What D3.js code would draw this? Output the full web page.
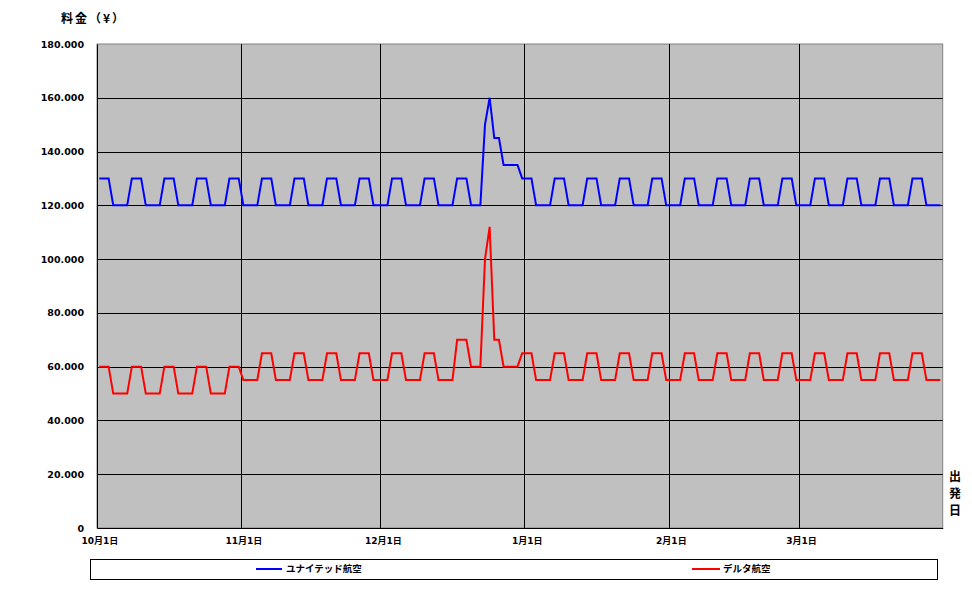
<!DOCTYPE html>
<html>
<head>
<meta charset="utf-8">
<script src="https://cdn.jsdelivr.net/npm/d3@7"></script>
<style>
  html, body { margin: 0; padding: 0; background: #ffffff; }
  svg { display: block; }
  text { font-family: "DejaVu Sans", "Noto Sans CJK JP", sans-serif; font-weight: bold; fill: #000; }
  .cjk { font-family: "Noto Sans CJK JP", sans-serif; }
</style>
</head>
<body>
<svg id="chart" width="972" height="595"></svg>
<script>
// ---- Data (departure date from 2010-10-01 to 2011-03-31, one value per day, yen) ----
const startDate = "2010-10-01";
const endDate = "2011-04-01"; // axis end (day after last departure date)

const seriesNames = ["ユナイテッド航空", "デルタ航空"];

// United Airlines fares, week by week (Fri, Sat, Sun, Mon, Tue, Wed, Thu)
const unitedFares = [
  130000,130000,130000,120000,120000,120000,120000, // Oct 1
  130000,130000,130000,120000,120000,120000,120000, // Oct 8
  130000,130000,130000,120000,120000,120000,120000, // Oct 15
  130000,130000,130000,120000,120000,120000,120000, // Oct 22
  130000,130000,130000,120000,120000,120000,120000, // Oct 29
  130000,130000,130000,120000,120000,120000,120000, // Nov 5
  130000,130000,130000,120000,120000,120000,120000, // Nov 12
  130000,130000,130000,120000,120000,120000,120000, // Nov 19
  130000,130000,130000,120000,120000,120000,120000, // Nov 26
  130000,130000,130000,120000,120000,120000,120000, // Dec 3
  130000,130000,130000,120000,120000,120000,120000, // Dec 10
  130000,130000,130000,120000,120000,120000,150000, // Dec 17
  160000,145000,145000,135000,135000,135000,135000, // Dec 24
  130000,130000,130000,120000,120000,120000,120000, // Dec 31
  130000,130000,130000,120000,120000,120000,120000, // Jan 7
  130000,130000,130000,120000,120000,120000,120000, // Jan 14
  130000,130000,130000,120000,120000,120000,120000, // Jan 21
  130000,130000,130000,120000,120000,120000,120000, // Jan 28
  130000,130000,130000,120000,120000,120000,120000, // Feb 4
  130000,130000,130000,120000,120000,120000,120000, // Feb 11
  130000,130000,130000,120000,120000,120000,120000, // Feb 18
  130000,130000,130000,120000,120000,120000,120000, // Feb 25
  130000,130000,130000,120000,120000,120000,120000, // Mar 4
  130000,130000,130000,120000,120000,120000,120000, // Mar 11
  130000,130000,130000,120000,120000,120000,120000, // Mar 18
  130000,130000,130000,120000,120000,120000,120000  // Mar 25
];

// Delta Air Lines fares, week by week (Fri, Sat, Sun, Mon, Tue, Wed, Thu)
const deltaFares = [
  60000,60000,60000,50000,50000,50000,50000, // Oct 1
  60000,60000,60000,50000,50000,50000,50000, // Oct 8
  60000,60000,60000,50000,50000,50000,50000, // Oct 15
  60000,60000,60000,50000,50000,50000,50000, // Oct 22
  60000,60000,60000,55000,55000,55000,55000, // Oct 29
  65000,65000,65000,55000,55000,55000,55000, // Nov 5
  65000,65000,65000,55000,55000,55000,55000, // Nov 12
  65000,65000,65000,55000,55000,55000,55000, // Nov 19
  65000,65000,65000,55000,55000,55000,55000, // Nov 26
  65000,65000,65000,55000,55000,55000,55000, // Dec 3
  65000,65000,65000,55000,55000,55000,55000, // Dec 10
  70000,70000,70000,60000,60000,60000,100000, // Dec 17
  112000,70000,70000,60000,60000,60000,60000, // Dec 24
  65000,65000,65000,55000,55000,55000,55000, // Dec 31
  65000,65000,65000,55000,55000,55000,55000, // Jan 7
  65000,65000,65000,55000,55000,55000,55000, // Jan 14
  65000,65000,65000,55000,55000,55000,55000, // Jan 21
  65000,65000,65000,55000,55000,55000,55000, // Jan 28
  65000,65000,65000,55000,55000,55000,55000, // Feb 4
  65000,65000,65000,55000,55000,55000,55000, // Feb 11
  65000,65000,65000,55000,55000,55000,55000, // Feb 18
  65000,65000,65000,55000,55000,55000,55000, // Feb 25
  65000,65000,65000,55000,55000,55000,55000, // Mar 4
  65000,65000,65000,55000,55000,55000,55000, // Mar 11
  65000,65000,65000,55000,55000,55000,55000, // Mar 18
  65000,65000,65000,55000,55000,55000,55000  // Mar 25
];

const yTickValues = [0, 20000, 40000, 60000, 80000, 100000, 120000, 140000, 160000, 180000];
const xTickDates = ["2010-10-01", "2010-11-01", "2010-12-01", "2011-01-01", "2011-02-01", "2011-03-01"];
const xTickLabels = ["10月1日", "11月1日", "12月1日", "1月1日", "2月1日", "3月1日"];
const yAxisTitle = "料金（¥）";
const xAxisTitle = ["出", "発", "日"];
const seriesColors = ["#0000ff", "#ff0000"];

// ---- Drawing ----
const parse = d3.utcParse("%Y-%m-%d");
const t0 = parse(startDate), t1 = parse(endDate);
const dayMs = 86400000;

const plot = { left: 97, right: 942.7, top: 44, bottom: 528 };
const svg = d3.select("#chart");

const x = d3.scaleUtc().domain([t0, t1]).range([plot.left, plot.right]);
const y = d3.scaleLinear().domain([0, 180000]).range([plot.bottom, plot.top]);

const halfDay = x(new Date(t0.getTime() + dayMs / 2)) - x(t0);

const fmt = d3.formatLocale({ decimal: ",", thousands: ".", grouping: [3], currency: ["", ""] }).format(",");

// plot background
svg.append("rect")
  .attr("x", plot.left).attr("y", plot.top)
  .attr("width", plot.right - plot.left).attr("height", plot.bottom - plot.top)
  .attr("fill", "#c0c0c0").attr("stroke", "#808080").attr("stroke-width", 1);

// horizontal gridlines
svg.append("g").selectAll("line")
  .data(yTickValues.filter(v => v > 0 && v < 180000))
  .join("line")
  .attr("x1", plot.left).attr("x2", plot.right)
  .attr("y1", d => Math.round(y(d)) + 0.5).attr("y2", d => Math.round(y(d)) + 0.5)
  .attr("stroke", "#000").attr("stroke-width", 1);

// vertical gridlines at month starts
svg.append("g").selectAll("line")
  .data(xTickDates.slice(1).map(parse))
  .join("line")
  .attr("x1", d => Math.round(x(d)) + 0.5).attr("x2", d => Math.round(x(d)) + 0.5)
  .attr("y1", plot.top).attr("y2", plot.bottom)
  .attr("stroke", "#000").attr("stroke-width", 1);

// y axis
const yAxis = svg.append("g")
  .attr("transform", `translate(${plot.left},0)`)
  .call(d3.axisLeft(y).tickValues(yTickValues).tickFormat(fmt).tickSize(0).tickPadding(13));
yAxis.select(".domain").attr("stroke", "#000");
yAxis.selectAll("text").style("font-size", "9.5px").style("font-family", "'DejaVu Sans', 'Noto Sans CJK JP'").style("font-weight", "bold");

// x axis
const xAxis = svg.append("g")
  .attr("transform", `translate(0,${plot.bottom})`)
  .call(d3.axisBottom(x).tickValues(xTickDates.map(parse))
    .tickFormat((d, i) => xTickLabels[i]).tickSize(0).tickPadding(10));
xAxis.select(".domain").attr("stroke", "#000");
xAxis.selectAll("text")
  .attr("dx", halfDay)
  .style("font-size", "9px").style("font-family", "'DejaVu Sans', 'Noto Sans CJK JP'").style("font-weight", "bold");

// lines
const line = d3.line()
  .x((d, i) => x(new Date(t0.getTime() + i * dayMs)) + halfDay)
  .y(d => y(d));

[unitedFares, deltaFares].forEach((vals, k) => {
  svg.append("path")
    .datum(vals)
    .attr("fill", "none")
    .attr("stroke", seriesColors[k])
    .attr("stroke-width", 2)
    .attr("stroke-linejoin", "miter")
    .attr("d", line);
});

// axis titles
svg.append("text").attr("class", "cjk")
  .attr("x", 61).attr("y", 23)
  .style("font-size", "12px")
  .style("letter-spacing", "2px")
  .text(yAxisTitle);

svg.append("g").selectAll("text")
  .data(xAxisTitle)
  .join("text").attr("class", "cjk")
  .attr("x", 955).attr("y", (d, i) => 481 + i * 17)
  .attr("text-anchor", "middle")
  .style("font-size", "12px")
  .text(d => d);

// legend
svg.append("rect")
  .attr("x", 90.5).attr("y", 559.5).attr("width", 847).attr("height", 20)
  .attr("fill", "#fff").attr("stroke", "#000").attr("stroke-width", 1);

const legendItems = [
  { x1: 256, x2: 282, tx: 286 },
  { x1: 692, x2: 720, tx: 723 }
];
legendItems.forEach((it, k) => {
  svg.append("line")
    .attr("x1", it.x1).attr("x2", it.x2).attr("y1", 569).attr("y2", 569)
    .attr("stroke", seriesColors[k]).attr("stroke-width", 2);
  svg.append("text").attr("class", "cjk")
    .attr("x", it.tx).attr("y", 569).attr("dy", "0.35em")
    .style("font-size", "9.5px")
    .text(seriesNames[k]);
});
</script>
</body>
</html>
